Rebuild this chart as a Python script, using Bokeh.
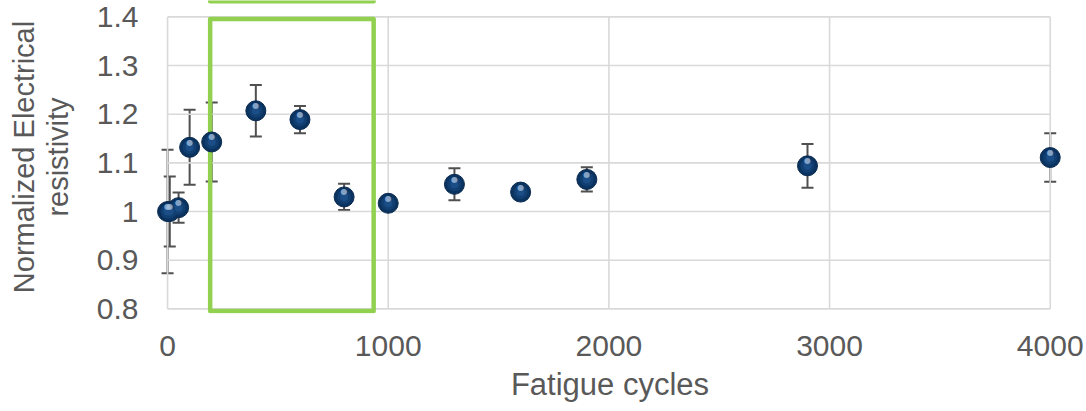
from bokeh.plotting import figure
from bokeh.models import Range1d, FixedTicker, Whisker, TeeHead, ColumnDataSource
from bokeh.embed import file_html
from bokeh.resources import INLINE
from bokeh.core.properties import value

# ---- data ----
cycles = [0, 10, 50, 100, 200, 400, 600, 800, 1000, 1300, 1600, 1900, 2900, 4000]
resistivity = [1.0, 1.0, 1.008, 1.132, 1.143, 1.207, 1.189, 1.030, 1.017, 1.056, 1.040, 1.066, 1.094, 1.111]
errors = [0.127, 0.072, 0.031, 0.077, 0.081, 0.053, 0.028, 0.027, 0.008, 0.033, 0.010, 0.025, 0.045, 0.050]

x_ticks = [0, 1000, 2000, 3000, 4000]
y_ticks = [0.8, 0.9, 1.0, 1.1, 1.2, 1.3, 1.4]
y_tick_labels = ["0.8", "0.9", "1", "1.1", "1.2", "1.3", "1.4"]

# highlighted region (green boxes)
box_left, box_right = 193, 934
box_bottom, box_top = 0.7957, 1.3957
box2_bottom, box2_top = 1.432, 1.70

x_title = "Fatigue cycles"
y_title = "Normalized Electrical\nresistivity"

FONT = "Liberation Sans"
TXT = "#595959"
GRID = "#d9d9d9"

p = figure(width=1086, height=411, output_backend="svg", toolbar_location=None,
           x_range=Range1d(-100, 4110), y_range=Range1d(0.7905, 1.4337),
           min_border_left=145, min_border_right=12, min_border_top=0, min_border_bottom=98)
p.outline_line_color = None
p.xgrid.visible = False
p.ygrid.visible = False

# gridlines limited to the 0..4000 x 0.8..1.4 box
p.segment(x0=x_ticks, x1=x_ticks, y0=[y_ticks[0]] * len(x_ticks), y1=[y_ticks[-1]] * len(x_ticks),
          line_color=GRID, line_width=1.6)
p.segment(x0=[x_ticks[0]] * len(y_ticks), x1=[x_ticks[-1]] * len(y_ticks), y0=y_ticks, y1=y_ticks,
          line_color=GRID, line_width=1.6)

# axes
p.xaxis.ticker = FixedTicker(ticks=x_ticks)
p.yaxis.ticker = FixedTicker(ticks=y_ticks)
p.yaxis.major_label_overrides = {t: l for t, l in zip(y_ticks, y_tick_labels)}
for ax in (p.xaxis[0], p.yaxis[0]):
    ax.axis_line_color = None
    ax.major_tick_line_color = None
    ax.minor_tick_line_color = None
    ax.major_tick_out = 0
    ax.major_tick_in = 0
    ax.major_label_text_font = FONT
    ax.major_label_text_font_size = "30px"
    ax.major_label_text_color = TXT
    ax.axis_label_text_font = FONT
    ax.axis_label_text_font_style = "normal"
    ax.axis_label_text_color = TXT
p.xaxis.major_label_standoff = 22
p.yaxis.major_label_standoff = 7
p.xaxis.axis_label = x_title
p.xaxis.axis_label_text_font_size = "31px"
p.xaxis.axis_label_standoff = 8
p.yaxis.axis_label = y_title
p.yaxis.axis_label_text_font_size = "29px"
p.yaxis.axis_label_text_line_height = 1.05
p.yaxis.axis_label_standoff = 20

# green boxes
p.quad(left=[box_left], right=[box_right], bottom=[box_bottom], top=[box_top],
       fill_color=None, line_color="#92d050", line_width=4.5, line_join="round")
p.quad(left=[box_left], right=[box_right], bottom=[box2_bottom], top=[box2_top],
       fill_color=None, line_color="#92d050", line_width=4.5, line_join="round")

# error bars
src = ColumnDataSource(dict(x=cycles, y=resistivity,
                            lo=[v - e for v, e in zip(resistivity, errors)],
                            hi=[v + e for v, e in zip(resistivity, errors)]))
whisk = Whisker(base="x", lower="lo", upper="hi", source=src,
                line_color="#505050", line_width=2,
                lower_head=TeeHead(size=12, line_color="#505050", line_width=2),
                upper_head=TeeHead(size=12, line_color="#505050", line_width=2))
p.add_layout(whisk)

# spheres
p.scatter("x", "y", source=src, size=20, fill_color="#0b3360", line_color="#0a2a4f", line_width=1)
p.scatter("x", "y", source=src, size=14, fill_color="#123f72", line_color=None)
p.scatter("x", "y", source=src, size=8, fill_color="#1b4e86", line_color=None)
p.text("x", "y", source=src, text=value("●"), text_font=value("DejaVu Sans"), text_font_size="8px",
       text_color="#a8c2e0", text_alpha=0.75, text_align="center", text_baseline="middle", y_offset=-5)

open("out.html", "w").write(file_html(p, INLINE))
